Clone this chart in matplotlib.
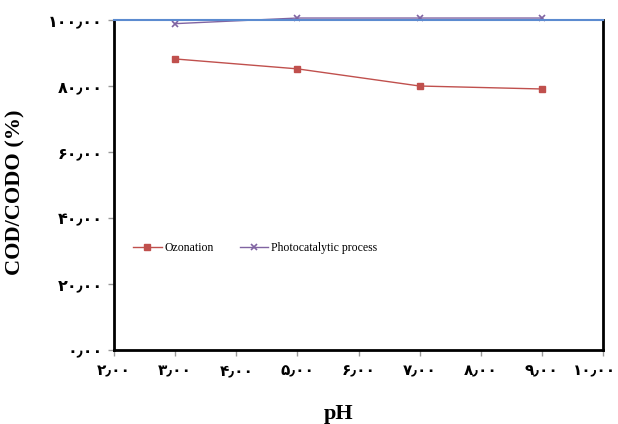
import matplotlib
matplotlib.use("Agg")
import matplotlib.pyplot as plt
import matplotlib.transforms as mtransforms

# data
ph = [3, 5, 7, 9]
ozonation = [88.2, 85.2, 80.0, 79.1]
photocatalytic = [98.9, 100.6, 100.6, 100.6]

x_ticks = [2, 3, 4, 5, 6, 7, 8, 9, 10]
y_ticks = [0, 20, 40, 60, 80, 100]

fa_digits = str.maketrans("0123456789.", "۰۱۲۳۴۵۶۷۸۹٫")


def fa_label(v):
    return "{:.2f}".format(v).translate(fa_digits)


tick_font = ["DejaVu Sans"]
serif = ["Liberation Serif", "DejaVu Serif"]

fig = plt.figure(figsize=(6.18, 4.24), dpi=100)
ax = fig.add_axes([0.1845, 0.1745, 0.7912, 0.7783])

ax.plot(ph, ozonation, color="#c0504d", lw=1.0, marker="s", ms=5,
        mec="#c0504d", mfc="#c0504d", label="Ozonation", clip_on=False)
ax.plot(ph, photocatalytic, color="#8064a2", lw=1.0, marker="x", ms=5,
        mew=1.2, label="Photocatalytic process", clip_on=False)

ax.set_xlim(2, 10)
ax.set_ylim(0, 100)
ax.set_xticks(x_ticks)
ax.set_yticks(y_ticks)
ax.set_xticklabels([fa_label(v) for v in x_ticks], family=tick_font,
                   fontsize=11, fontweight="bold")
ax.set_yticklabels([fa_label(v) for v in y_ticks], family=tick_font,
                   fontsize=11.5, fontweight="bold")
ax.tick_params(axis="both", direction="out", length=4, color="#999999",
               width=1, pad=4)
ax.tick_params(axis="x", pad=6)

# last x label sits a bit left so it stays inside the picture
last = ax.get_xticklabels()[-1]
last.set_transform(last.get_transform() +
                   mtransforms.ScaledTranslation(-8 / 100, 0, fig.dpi_scale_trans))

for side in ["left", "bottom", "right"]:
    ax.spines[side].set_color("black")
    ax.spines[side].set_linewidth(2)
ax.spines["top"].set_color("#5b8bd0")
ax.spines["top"].set_linewidth(1.5)

ax.set_xlabel("pH", family=serif, fontsize=16, fontweight="bold")
ax.xaxis.set_label_coords(0.46, -0.165)
ax.set_ylabel("COD/CODO (%)", family=serif, fontsize=16, fontweight="bold")
ax.yaxis.set_label_coords(-0.182, 0.479)

ax.legend(loc="center left", bbox_to_anchor=(0.025, 0.31), ncol=2,
          frameon=False, prop={"family": serif, "size": 8.5},
          handlelength=2.4, handletextpad=0.25, columnspacing=2.2,
          borderaxespad=0.2)

fig.savefig("out.png", dpi=100)
